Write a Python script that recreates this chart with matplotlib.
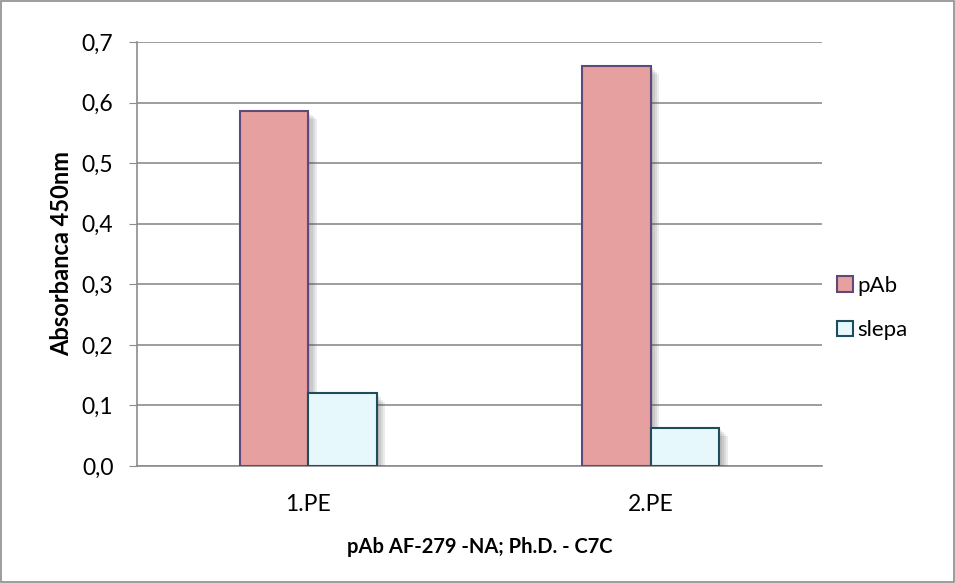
import matplotlib
matplotlib.use("Agg")
import matplotlib.pyplot as plt
import matplotlib.patheffects as pe
from matplotlib.patches import Patch
import numpy as np

categories = ["1.PE", "2.PE"]
series_names = ["pAb", "slepa"]
pab = [0.586, 0.661]
slepa = [0.120, 0.063]
yticks = [0.0, 0.1, 0.2, 0.3, 0.4, 0.5, 0.6, 0.7]

plt.rcParams['font.family'] = ['Lato', 'DejaVu Sans']

fig = plt.figure(figsize=(9.55, 5.83), dpi=100)
fig.patch.set_facecolor('white')
fig.add_artist(plt.Rectangle((0.001, 0.001), 0.998, 0.997, transform=fig.transFigure,
                             fill=False, edgecolor='#8c8c8c', linewidth=1.2))

ax = fig.add_axes([0.1435, 0.2007, 0.7175, 0.7273])
x = np.arange(len(categories))
w = 0.2
shadow = [pe.SimplePatchShadow(offset=(o, -o), shadow_rgbFace='#444444', alpha=0.10)
          for o in (1.5, 3, 4.5, 6)] + [pe.Normal()]
pab_face, pab_edge = '#E6A09F', '#5E4A7A'
sl_face, sl_edge = '#E6F8FC', '#1F4E5A'
b1 = ax.bar(x - w/2, pab, width=w, color=pab_face, edgecolor=pab_edge, linewidth=1.5, zorder=3)
b2 = ax.bar(x + w/2, slepa, width=w, color=sl_face, edgecolor=sl_edge, linewidth=1.5, zorder=3)
for b in list(b1) + list(b2):
    b.set_path_effects(shadow)

ax.set_xlim(-0.5, 1.5)
ax.set_ylim(0, 0.7)
ax.set_yticks(yticks)
ax.set_yticklabels([f"{v:.1f}".replace('.', ',') for v in yticks], fontsize=16.5)
ax.set_xticks(x)
ax.set_xticklabels(categories, fontsize=16.5)
ax.tick_params(axis='x', length=0, pad=20)
ax.tick_params(axis='y', length=6, color='#8c8c8c', pad=11)
ax.yaxis.grid(True, color='#8c8c8c', linewidth=1.2, zorder=0)
ax.set_axisbelow(True)
for s in ['top', 'right']:
    ax.spines[s].set_visible(False)
for s in ['left', 'bottom']:
    ax.spines[s].set_color('#8c8c8c')
    ax.spines[s].set_linewidth(1.2)

ax.set_ylabel("Absorbanca 450nm", fontsize=17, fontweight='bold', labelpad=6)
ax.set_xlabel("pAb AF-279 -NA; Ph.D. - C7C", fontsize=14.5, fontweight='bold', labelpad=16)

handles = [Patch(facecolor=pab_face, edgecolor=pab_edge, linewidth=1.5, label=series_names[0]),
           Patch(facecolor=sl_face, edgecolor=sl_edge, linewidth=1.5, label=series_names[1])]
fig.legend(handles=handles, loc='center left', bbox_to_anchor=(837/955, 1 - 308/583),
           frameon=False, fontsize=16, handlelength=0.7, handleheight=0.7,
           handletextpad=0.2, labelspacing=1.1, borderaxespad=0, borderpad=0)

fig.savefig("out.png", dpi=100)
